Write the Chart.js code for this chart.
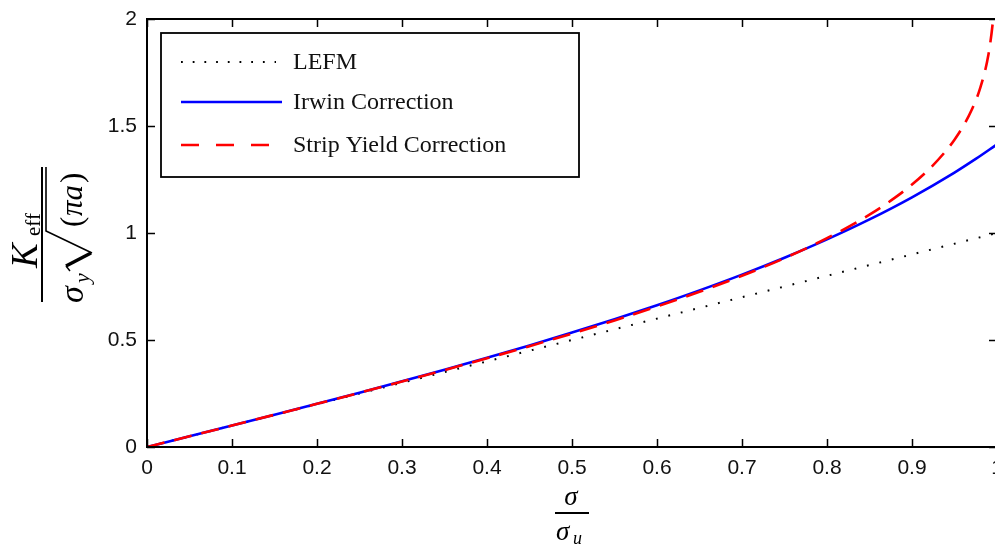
<!DOCTYPE html>
<html>
<head>
<meta charset="utf-8">
<script src="https://cdn.jsdelivr.net/npm/chart.js@4"></script>
<style>
  html, body { margin: 0; padding: 0; background: #fff; overflow: hidden; }
  #keff { position: absolute; left: 0; top: 0; }
</style>
</head>
<body>
<canvas id="keff" width="1005" height="545"></canvas>
<script>
// values
const xTicks = [0, 0.1, 0.2, 0.3, 0.4, 0.5, 0.6, 0.7, 0.8, 0.9, 1];
const xTickLabels = ["0", "0.1", "0.2", "0.3", "0.4", "0.5", "0.6", "0.7", "0.8", "0.9", "1"];
const yTicks = [0, 0.5, 1, 1.5, 2];
const yTickLabels = ["0", "0.5", "1", "1.5", "2"];

const lefmX = [0, 1];
const lefmY = [0, 1];

const irwinX = [0, 0.05, 0.1, 0.15, 0.2, 0.25, 0.3, 0.35, 0.4, 0.45, 0.5, 0.55, 0.6, 0.65, 0.7, 0.75, 0.8, 0.85, 0.9, 0.95, 0.975, 1];
const irwinY = [0, 0.0500, 0.1003, 0.1509, 0.2020, 0.2540, 0.3070, 0.3612, 0.4170, 0.4747, 0.5345, 0.5970, 0.6626, 0.7319, 0.8056, 0.8847, 0.9701, 1.0635, 1.1668, 1.2824, 1.3460, 1.4142];

const stripX = [0, 0.05, 0.1, 0.15, 0.2, 0.25, 0.3, 0.35, 0.4, 0.45, 0.5, 0.55, 0.6, 0.65, 0.7, 0.75, 0.8, 0.85, 0.88, 0.9, 0.92, 0.94, 0.95, 0.96, 0.97, 0.98, 0.99, 0.995, 0.996];
const stripY = [0, 0.0500, 0.1002, 0.1507, 0.2017, 0.2533, 0.3058, 0.3595, 0.4145, 0.4712, 0.5300, 0.5915, 0.6563, 0.7254, 0.8001, 0.8824, 0.9757, 1.0859, 1.1651, 1.2263, 1.2975, 1.3841, 1.4363, 1.4979, 1.5737, 1.6748, 1.8349, 1.9821, 2.0272];

const seriesNames = ["LEFM", "Irwin Correction", "Strip Yield Correction"];

const pts = (xs, ys) => xs.map((x, i) => ({ x: x, y: ys[i] }));

const tickFont = { family: "'Liberation Sans', Arial, sans-serif", size: 21 };
const serif = "'Liberation Serif', 'Times New Roman', serif";

// MATLAB style box, inward ticks, legend and the two fraction labels
const decor = {
  id: "decor",
  afterDraw(chart) {
    const ctx = chart.ctx;
    const a = chart.chartArea;
    const xs = chart.scales.x, ys = chart.scales.y;
    ctx.save();
    ctx.strokeStyle = "#000";
    ctx.lineWidth = 1.5;
    ctx.beginPath();
    xTicks.forEach((v) => {
      const p = Math.round(xs.getPixelForValue(v)) + 0.5;
      ctx.moveTo(p, a.bottom); ctx.lineTo(p, a.bottom - 8);
      ctx.moveTo(p, a.top); ctx.lineTo(p, a.top + 8);
    });
    yTicks.forEach((v) => {
      const p = Math.round(ys.getPixelForValue(v)) + 0.5;
      ctx.moveTo(a.left, p); ctx.lineTo(a.left + 8, p);
      ctx.moveTo(a.right, p); ctx.lineTo(a.right - 8, p);
    });
    ctx.stroke();
    ctx.lineWidth = 2;
    ctx.strokeRect(a.left, a.top, a.right - a.left, a.bottom - a.top);

    // legend
    ctx.fillStyle = "#fff";
    ctx.fillRect(161, 33, 418, 144);
    ctx.lineWidth = 1.8;
    ctx.strokeRect(161, 33, 418, 144);
    const rows = [62, 102, 145];
    const ds = chart.data.datasets;
    rows.forEach((y, i) => {
      ctx.beginPath();
      ctx.strokeStyle = ds[i].borderColor;
      ctx.lineWidth = i === 0 ? 2 : ds[i].borderWidth;
      ctx.setLineDash(i === 0 ? [1.8, 9.9] : i === 2 ? [18, 17] : []);
      ctx.moveTo(181, y); ctx.lineTo(i === 0 ? 276 : 282, y);
      ctx.stroke();
      ctx.setLineDash([]);
      ctx.fillStyle = "#111";
      ctx.font = "24px " + serif;
      ctx.textBaseline = "middle";
      ctx.textAlign = "left";
      ctx.fillText(seriesNames[i], 293, y + 1);
    });

    // x title: sigma / sigma_u
    ctx.fillStyle = "#000";
    ctx.strokeStyle = "#000";
    ctx.textBaseline = "alphabetic";
    ctx.textAlign = "center";
    ctx.font = "italic 27px " + serif;
    ctx.fillText("σ", 571, 505);
    ctx.lineWidth = 2;
    ctx.beginPath(); ctx.moveTo(555, 513); ctx.lineTo(589, 513); ctx.stroke();
    ctx.textAlign = "left";
    ctx.fillText("σ", 556, 540);
    ctx.font = "italic 18px " + serif;
    ctx.fillText("u", 573, 544);

    // y title: K_eff / (sigma_y sqrt(pi a)), rotated
    ctx.translate(42, 235);
    ctx.rotate(-Math.PI / 2);
    ctx.lineWidth = 2;
    ctx.beginPath(); ctx.moveTo(-67, 0); ctx.lineTo(68, 0); ctx.stroke();
    ctx.font = "italic 37px " + serif;
    ctx.fillText("K", -33, -5);
    ctx.font = "21px " + serif;
    ctx.fillText("eff", -1, -2);
    ctx.font = "italic 34px " + serif;
    ctx.fillText("σ", -68, 41);
    ctx.font = "italic 22px " + serif;
    ctx.fillText("y", -48, 47);
    ctx.lineWidth = 1.5;
    ctx.beginPath();
    ctx.moveTo(-36, 28); ctx.lineTo(-31, 24);
    ctx.stroke();
    ctx.lineWidth = 3.5;
    ctx.beginPath();
    ctx.moveTo(-31, 24); ctx.lineTo(-18, 49);
    ctx.stroke();
    ctx.lineWidth = 1.6;
    ctx.beginPath();
    ctx.moveTo(-18, 50); ctx.lineTo(4, 4); ctx.lineTo(68, 4);
    ctx.stroke();
    ctx.font = "31px " + serif;
    ctx.fillText("(", 8, 40);
    ctx.font = "italic 31px " + serif;
    ctx.fillText("πa", 19, 40);
    ctx.font = "31px " + serif;
    ctx.fillText(")", 52, 40);
    ctx.restore();
  }
};

new Chart(document.getElementById("keff"), {
  type: "line",
  data: {
    datasets: [
      {
        label: seriesNames[0],
        data: pts(lefmX, lefmY),
        borderColor: "#000",
        borderWidth: 2,
        borderDash: [1.8, 11],
        pointRadius: 0,
        order: 3,
      },
      {
        label: seriesNames[1],
        data: pts(irwinX, irwinY),
        borderColor: "#0000ff",
        borderWidth: 2.6,
        pointRadius: 0,
        cubicInterpolationMode: "monotone",
        order: 2,
      },
      {
        label: seriesNames[2],
        data: pts(stripX, stripY),
        borderColor: "#ff0000",
        borderWidth: 2.6,
        borderDash: [18, 10],
        pointRadius: 0,
        cubicInterpolationMode: "monotone",
        order: 1,
      },
    ],
  },
  options: {
    responsive: false,
    animation: false,
    layout: { padding: { top: 19, right: 8, left: 0, bottom: 0 } },
    plugins: { legend: { display: false }, tooltip: { enabled: false } },
    scales: {
      x: {
        type: "linear",
        min: 0,
        max: 1,
        afterBuildTicks: (s) => { s.ticks = xTicks.map((v) => ({ value: v })); },
        afterFit: (s) => { s.height = 98; s.paddingLeft = 0; s.paddingRight = 0; },
        grid: { display: false, drawTicks: false },
        border: { display: false },
        ticks: {
          color: "#111", font: tickFont, padding: 9, maxRotation: 0, autoSkip: false,
          callback: (v, i) => xTickLabels[i],
        },
      },
      y: {
        type: "linear",
        min: 0,
        max: 2,
        afterBuildTicks: (s) => { s.ticks = yTicks.map((v) => ({ value: v })); },
        afterFit: (s) => { s.width = 147; s.paddingTop = 0; s.paddingBottom = 0; },
        grid: { display: false, drawTicks: false },
        border: { display: false },
        ticks: {
          color: "#111", font: tickFont, padding: 10,
          callback: (v, i) => yTickLabels[i],
        },
      },
    },
  },
  plugins: [decor],
});
</script>
</body>
</html>
